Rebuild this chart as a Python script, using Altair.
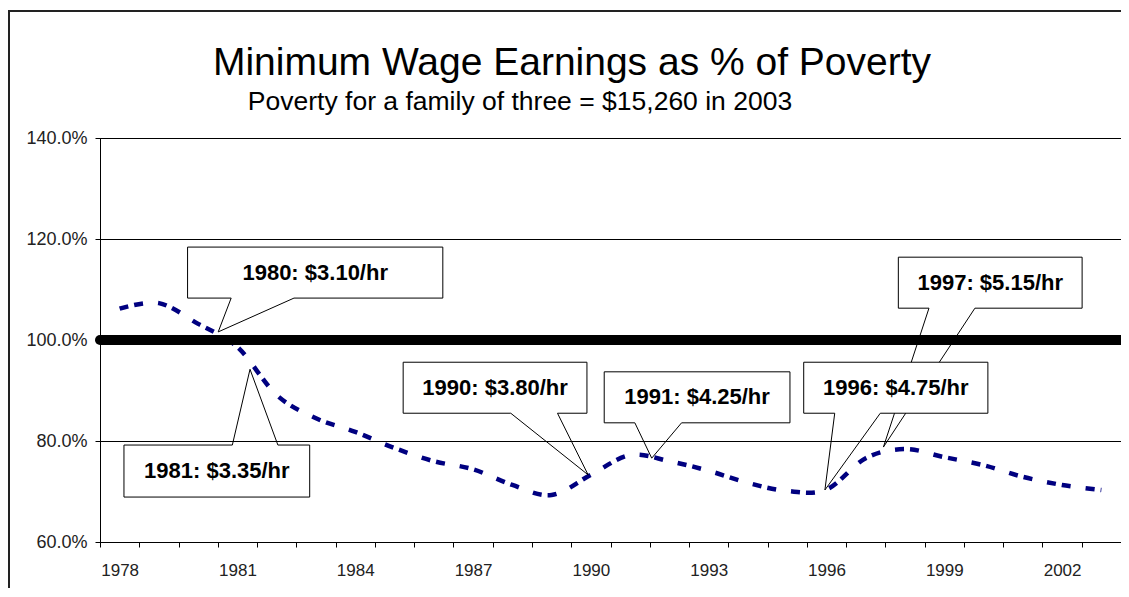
import altair as alt
import pandas as pd

# ---------------- data ----------------
years = list(range(1978, 2004))
pct_of_poverty = [106.2, 107.3, 103.2, 98.6, 89.1, 84.5, 81.8, 78.6, 76.0, 74.4,
                  71.3, 69.3, 73.3, 77.2, 76.0, 74.1, 71.7, 70.1, 70.4, 76.6,
                  78.4, 76.8, 75.2, 72.9, 71.3, 70.3]
poverty_line = [100.0]

y_ticks = [60, 80, 100, 120, 140]

# callouts (in data units: year / percent), drawn in this order
callout_labels = ["1980: $3.10/hr", "1981: $3.35/hr", "1990: $3.80/hr",
                  "1991: $4.25/hr", "1997: $5.15/hr", "1996: $4.75/hr"]
box_x0 = [1979.73, 1978.11, 1985.22, 1990.34, 1997.83, 1995.42]
box_x1 = [1986.23, 1982.84, 1989.90, 1995.07, 2002.51, 2000.11]
box_top = [118.4, 79.2, 95.6, 93.7, 116.4, 95.6]
box_bottom = [108.3, 68.9, 85.5, 83.6, 106.3, 85.5]
attach_a = [1980.84, 1980.87, 1987.96, 1991.12, 1998.61, 1996.21]
attach_b = [1982.44, 1982.03, 1989.15, 1992.31, 1999.78, 1997.37]
tip_x = [1980.51, 1981.32, 1989.93, 1991.55, 1997.45, 1995.96]
tip_y = [101.6, 94.2, 73.3, 76.6, 78.8, 70.3]
pointer_side = ["bottom", "top", "bottom", "bottom", "bottom", "bottom"]

title_text = "Minimum Wage Earnings as % of Poverty"
subtitle_text = "Poverty for a family of three = $15,260 in 2003"

# ---------------- layout ----------------
X_DOMAIN = [years[0] - 0.5, years[-1] + 0.5]
Y_DOMAIN = [60, 140]
W, H = 1021, 404
FONT = "Liberation Sans"

xscale = alt.Scale(domain=X_DOMAIN, nice=False, zero=False)
yscale = alt.Scale(domain=Y_DOMAIN, nice=False, zero=False)

x_ticks = [X_DOMAIN[0] + i for i in range(len(years) + 1)]
x_axis = alt.Axis(
    values=x_ticks,
    labelExpr="((datum.value + 0.5 - 1978) % 3 == 0 && datum.value < 2003) ? format(datum.value + 0.5, 'd') : ''",
    labelOffset=W / len(years) / 2,
    labelOverlap=False, labelFlush=False, labelBound=False,
    tickSize=5, tickColor="black", domainColor="black",
    labelFont=FONT, labelFontSize=17, labelColor="#222222", labelPadding=15,
    grid=False, title=None,
)
y_axis = alt.Axis(
    values=y_ticks,
    labelExpr="format(datum.value, '.1f') + '%'",
    tickSize=5, tickColor="black", domainColor="black",
    labelFont=FONT, labelFontSize=18, labelColor="#222222", labelPadding=8,
    grid=True, gridColor="black", gridWidth=1, title=None,
)


def X(field):
    return alt.X(field, scale=xscale, axis=x_axis)


def Y(field):
    return alt.Y(field, scale=yscale, axis=y_axis)


df = pd.DataFrame({"year": years, "pct": pct_of_poverty})

wage_line = alt.Chart(df).mark_line(
    color="#000080", strokeWidth=4.5, strokeDash=[9, 6, 9, 15],
    interpolate="cardinal", strokeCap="butt",
).encode(x=X("year:Q"), y=Y("pct:Q"))

ref_df = pd.DataFrame({"x0": [X_DOMAIN[0]], "x1": [X_DOMAIN[1]], "v": poverty_line})
ref_line = alt.Chart(ref_df).mark_rule(
    color="black", strokeWidth=10, strokeCap="round"
).encode(x=X("x0:Q"), x2="x1:Q", y=Y("v:Q"))

layers = [wage_line, ref_line]

for i, label in enumerate(callout_labels):
    x0, x1, t, b = box_x0[i], box_x1[i], box_top[i], box_bottom[i]
    a, bb = attach_a[i], attach_b[i]
    tx, ty = tip_x[i], tip_y[i]
    if pointer_side[i] == "bottom":
        pts = [(x0, t), (x1, t), (x1, b), (bb, b), (tx, ty), (a, b), (x0, b), (x0, t)]
    else:
        pts = [(x0, t), (a, t), (tx, ty), (bb, t), (x1, t), (x1, b), (x0, b), (x0, t)]
    box_df = pd.DataFrame({"x0": [x0], "x1": [x1], "t": [t], "b": [b],
                           "cx": [(x0 + x1) / 2], "cy": [(t + b) / 2], "label": [label]})
    outline_df = pd.DataFrame({"px": [p[0] for p in pts], "py": [p[1] for p in pts],
                               "o": list(range(len(pts)))})
    rect = alt.Chart(box_df).mark_rect(fill="white", strokeWidth=0).encode(
        x=X("x0:Q"), x2="x1:Q", y=Y("t:Q"), y2="b:Q",
    )
    outline = alt.Chart(outline_df).mark_line(
        color="black", strokeWidth=1, interpolate="linear", strokeJoin="miter"
    ).encode(x=X("px:Q"), y=Y("py:Q"), order="o:Q")
    text = alt.Chart(box_df).mark_text(
        font=FONT, fontSize=22, fontWeight="bold", color="black",
        align="center", baseline="middle",
    ).encode(x=X("cx:Q"), y=Y("cy:Q"), text="label:N")
    layers += [rect, outline, text]

one = alt.Data(values=[{}])
title = alt.Chart(one).mark_text(
    font=FONT, fontSize=39, color="black", align="center", baseline="alphabetic"
).encode(x=alt.value(472), y=alt.value(-63), text=alt.value(title_text))
subtitle = alt.Chart(one).mark_text(
    font=FONT, fontSize=26.5, color="black", align="center", baseline="alphabetic"
).encode(x=alt.value(420), y=alt.value(-28), text=alt.value(subtitle_text))

border_left = alt.Chart(one).mark_rule(color="#222222", strokeWidth=2).encode(
    x=alt.value(-91), y=alt.value(-127), y2=alt.value(480))
border_top = alt.Chart(one).mark_rule(color="#222222", strokeWidth=2).encode(
    x=alt.value(-92), x2=alt.value(1040), y=alt.value(-127))

layers += [title, subtitle, border_left, border_top]

chart = alt.layer(*layers).properties(
    width=W, height=H,
    autosize=alt.AutoSizeParams(type="none"),
    padding={"left": 92, "top": 130, "right": 0, "bottom": 46},
    background="white",
).configure_view(stroke="black", strokeWidth=1)

chart.save("out.html", embed_options={"renderer": "svg", "actions": False})
